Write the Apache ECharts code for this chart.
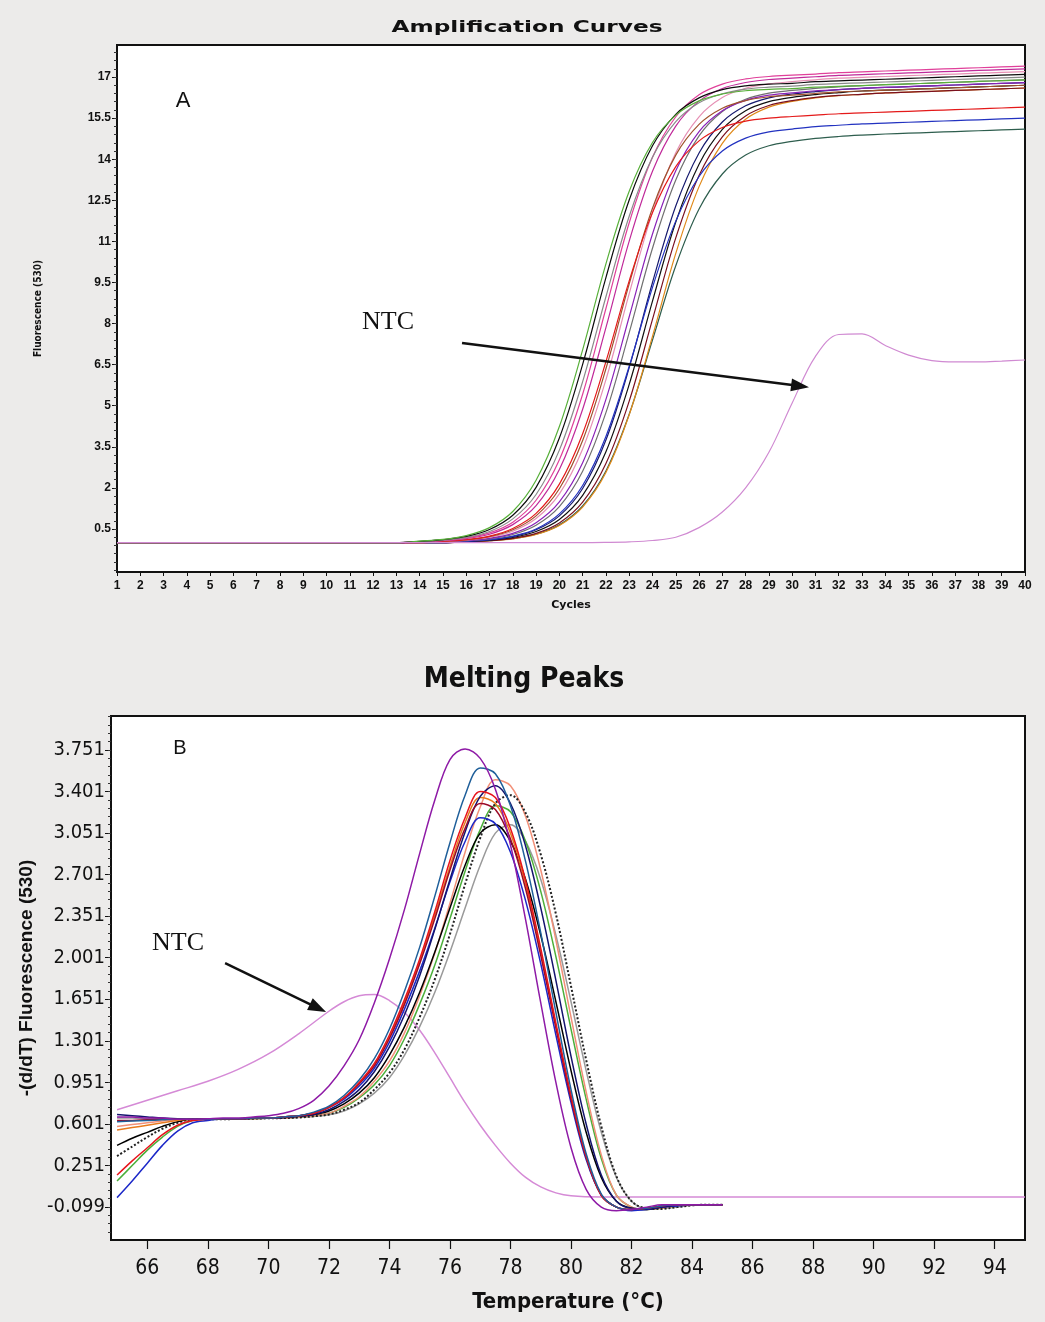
<!DOCTYPE html>
<html>
<head>
<meta charset="utf-8">
<title>Amplification Curves / Melting Peaks</title>
<script src="https://cdn.jsdelivr.net/npm/echarts@6/dist/echarts.min.js"></script>
<style>
  html, body { margin: 0; padding: 0; background: #ecebea; }
  #chart { width: 1045px; height: 1322px; }
</style>
</head>
<body>
<div id="chart"></div>
<script>
// ---- A: amplification curves (fluorescence per cycle) ----
const cycles = [1,2,3,4,5,6,7,8,9,10,11,12,13,14,15,16,17,18,19,20,21,22,23,24,25,26,27,28,29,30,31,32,33,34,35,36,37,38,39,40];
const ampTicks = [0.5, 2, 3.5, 5, 6.5, 8, 9.5, 11, 12.5, 14, 15.5, 17];

const ampGreen   = [0,0,0,0,0,0,0,0,0,0,0,0,0,0.06,0.12,0.26,0.55,1.14,2.28,4.24,7.04,10.18,12.83,14.61,15.61,16.13,16.38,16.50,16.55,16.58,16.63,16.66,16.69,16.72,16.75,16.78,16.81,16.84,16.87,16.90];
const ampBlack   = [0,0,0,0,0,0,0,0,0,0,0,0,0,0.05,0.11,0.23,0.48,1.00,2.02,3.82,6.51,9.68,12.51,14.49,15.64,16.24,16.54,16.68,16.74,16.77,16.83,16.86,16.89,16.92,16.95,16.98,17.01,17.04,17.07,17.10];
const ampGray    = [0,0,0,0,0,0,0,0,0,0,0,0,0,0.04,0.09,0.19,0.41,0.87,1.76,3.38,5.88,8.98,11.92,14.07,15.37,16.06,16.39,16.56,16.63,16.67,16.73,16.76,16.79,16.82,16.85,16.88,16.91,16.94,16.97,17.00];
const ampPink    = [0,0,0,0,0,0,0,0,0,0,0,0,0,0.04,0.08,0.17,0.36,0.75,1.55,3.03,5.42,8.55,11.68,14.07,15.55,16.35,16.74,16.93,17.02,17.07,17.11,17.16,17.19,17.22,17.25,17.28,17.31,17.34,17.37,17.40];
const ampMagenta = [0,0,0,0,0,0,0,0,0,0,0,0,0,0.03,0.07,0.15,0.31,0.66,1.35,2.67,4.87,7.85,11.01,13.56,15.21,16.12,16.58,16.80,16.91,16.96,17.01,17.06,17.09,17.12,17.15,17.18,17.21,17.24,17.27,17.30];
const ampRed     = [0,0,0,0,0,0,0,0,0,0,0,0,0,0,0.05,0.11,0.24,0.52,1.07,2.14,3.98,6.61,9.56,12.05,13.73,14.67,15.16,15.39,15.50,15.56,15.61,15.66,15.69,15.72,15.75,15.78,15.81,15.84,15.87,15.90];
const ampBrown   = [0,0,0,0,0,0,0,0,0,0,0,0,0,0,0.05,0.10,0.22,0.47,0.98,1.97,3.73,6.35,9.45,12.21,14.15,15.27,15.86,16.14,16.28,16.34,16.40,16.46,16.49,16.52,16.55,16.58,16.61,16.64,16.67,16.70];
const ampRose    = [0,0,0,0,0,0,0,0,0,0,0,0,0,0,0.04,0.09,0.20,0.42,0.88,1.78,3.42,5.95,9.09,12.06,14.24,15.55,16.25,16.59,16.75,16.83,16.90,16.96,16.99,17.02,17.05,17.08,17.11,17.14,17.17,17.20];
const ampPurple  = [0,0,0,0,0,0,0,0,0,0,0,0,0,0,0.04,0.08,0.16,0.34,0.73,1.49,2.92,5.23,8.25,11.27,13.58,15.01,15.77,16.15,16.34,16.42,16.50,16.54,16.59,16.62,16.65,16.68,16.71,16.74,16.77,16.80];
const ampSlate   = [0,0,0,0,0,0,0,0,0,0,0,0,0,0,0.03,0.07,0.14,0.30,0.64,1.32,2.61,4.75,7.67,10.75,13.24,14.85,15.74,16.19,16.41,16.51,16.59,16.64,16.69,16.72,16.75,16.78,16.81,16.84,16.87,16.90];
const ampBlue    = [0,0,0,0,0,0,0,0,0,0,0,0,0,0,0,0.05,0.11,0.24,0.50,1.05,2.09,3.88,6.44,9.32,11.74,13.37,14.30,14.77,15.00,15.10,15.19,15.24,15.29,15.32,15.35,15.38,15.41,15.44,15.47,15.50];
const ampNavy    = [0,0,0,0,0,0,0,0,0,0,0,0,0,0,0,0.05,0.10,0.22,0.47,0.98,1.98,3.75,6.39,9.50,12.29,14.23,15.36,15.95,16.24,16.38,16.47,16.54,16.59,16.62,16.65,16.68,16.71,16.74,16.77,16.80];
const ampBlack2  = [0,0,0,0,0,0,0,0,0,0,0,0,0,0,0,0.04,0.09,0.19,0.41,0.85,1.73,3.32,5.78,8.82,11.71,13.82,15.09,15.77,16.10,16.26,16.36,16.43,16.49,16.52,16.55,16.58,16.61,16.64,16.67,16.70];
const ampDarkRed = [0,0,0,0,0,0,0,0,0,0,0,0,0,0,0,0.04,0.07,0.16,0.34,0.72,1.48,2.89,5.17,8.15,11.13,13.41,14.82,15.58,15.96,16.14,16.26,16.33,16.37,16.42,16.45,16.48,16.51,16.54,16.57,16.60];
const ampOrange  = [0,0,0,0,0,0,0,0,0,0,0,0,0,0,0,0.03,0.07,0.14,0.30,0.63,1.30,2.56,4.67,7.53,10.56,13.00,14.58,15.46,15.90,16.11,16.24,16.32,16.37,16.42,16.45,16.48,16.51,16.54,16.57,16.60];
const ampTeal    = [0,0,0,0,0,0,0,0,0,0,0,0,0,0,0,0.03,0.07,0.15,0.31,0.65,1.34,2.62,4.69,7.40,10.11,12.18,13.46,14.15,14.49,14.65,14.76,14.83,14.88,14.92,14.95,14.98,15.01,15.04,15.07,15.10];
const ampNtc     = [0,0,0,0,0,0,0,0,0,0,0,0,0,0,0,0,0,0,0,0,0,0.01,0.03,0.08,0.20,0.55,1.12,2.00,3.30,5.10,6.80,7.60,7.62,7.20,6.85,6.65,6.60,6.60,6.63,6.67];

// ---- B: melting peaks (-dF/dT per temperature) ----
const meltTemp = [65,65.5,66,66.5,67,67.5,68,68.5,69,69.5,70,70.5,71,71.5,72,72.5,73,73.5,74,74.5,75,75.5,76,76.5,77,77.5,78,78.5,79,79.5,80,80.5,81,81.5,82,82.5,83,83.5,84,84.5,85];
const meltTicks = [66, 68, 70, 72, 74, 76, 78, 80, 82, 84, 86, 88, 90, 92, 94];
const meltYTicks = [-0.099, 0.251, 0.601, 0.951, 1.301, 1.651, 2.001, 2.351, 2.701, 3.051, 3.401, 3.751];

const meltPurple  = [0.66,0.66,0.65,0.65,0.64,0.64,0.645,0.65,0.65,0.66,0.67,0.69,0.73,0.80,0.92,1.09,1.31,1.62,1.99,2.41,2.88,3.33,3.67,3.76,3.68,3.42,2.95,2.32,1.62,0.95,0.40,0.05,-0.10,-0.13,-0.12,-0.10,-0.08,-0.08,-0.08,-0.08,-0.08];
const meltTeal    = [0.62,0.625,0.63,0.635,0.64,0.64,0.64,0.645,0.645,0.65,0.65,0.66,0.67,0.70,0.75,0.84,0.97,1.15,1.40,1.72,2.09,2.52,2.97,3.37,3.60,3.55,3.28,2.81,2.21,1.54,0.89,0.35,0.01,-0.10,-0.12,-0.11,-0.09,-0.08,-0.08,-0.08,-0.08];
const meltSalmon  = [0.58,0.595,0.61,0.625,0.635,0.64,0.64,0.64,0.645,0.645,0.65,0.65,0.66,0.67,0.69,0.75,0.83,0.96,1.13,1.37,1.68,2.04,2.46,2.89,3.27,3.50,3.45,3.19,2.74,2.15,1.50,0.87,0.34,0.00,-0.10,-0.12,-0.11,-0.09,-0.08,-0.08,-0.08];
const meltDotted  = [0.33,0.41,0.49,0.56,0.61,0.64,0.64,0.64,0.643,0.645,0.648,0.65,0.655,0.665,0.68,0.72,0.78,0.89,1.03,1.23,1.50,1.82,2.20,2.62,3.01,3.30,3.37,3.22,2.87,2.37,1.76,1.14,0.58,0.16,-0.05,-0.11,-0.115,-0.10,-0.085,-0.08,-0.08];
const meltGray    = [0.65,0.65,0.645,0.645,0.64,0.64,0.64,0.64,0.643,0.645,0.648,0.65,0.655,0.664,0.677,0.71,0.77,0.86,0.99,1.18,1.42,1.71,2.05,2.42,2.78,3.05,3.12,2.98,2.66,2.19,1.63,1.05,0.53,0.15,-0.05,-0.11,-0.11,-0.10,-0.085,-0.08,-0.08];
const meltGreen   = [0.12,0.25,0.38,0.49,0.58,0.63,0.64,0.64,0.645,0.645,0.65,0.65,0.66,0.67,0.69,0.74,0.82,0.93,1.09,1.32,1.61,1.94,2.33,2.73,3.08,3.28,3.23,2.98,2.56,2.01,1.40,0.81,0.31,0.00,-0.10,-0.12,-0.11,-0.09,-0.08,-0.08,-0.08];
const meltRed     = [0.17,0.29,0.40,0.51,0.59,0.63,0.64,0.645,0.645,0.65,0.65,0.66,0.67,0.69,0.74,0.82,0.95,1.11,1.35,1.65,1.99,2.39,2.82,3.18,3.40,3.35,3.09,2.65,2.08,1.45,0.84,0.33,0.00,-0.10,-0.12,-0.11,-0.09,-0.08,-0.08,-0.08,-0.08];
const meltDarkRed = [0.63,0.63,0.635,0.64,0.64,0.64,0.64,0.645,0.645,0.65,0.65,0.66,0.67,0.69,0.74,0.82,0.94,1.09,1.32,1.61,1.95,2.33,2.74,3.09,3.30,3.25,3.00,2.58,2.02,1.41,0.81,0.32,0.00,-0.10,-0.12,-0.11,-0.09,-0.08,-0.08,-0.08,-0.08];
const meltNavy    = [0.68,0.67,0.66,0.65,0.645,0.64,0.64,0.643,0.645,0.648,0.65,0.655,0.665,0.68,0.72,0.79,0.89,1.04,1.25,1.52,1.85,2.24,2.66,3.06,3.36,3.45,3.30,2.94,2.42,1.81,1.17,0.60,0.17,-0.05,-0.11,-0.115,-0.10,-0.085,-0.08,-0.08,-0.08];
const meltBlue    = [-0.02,0.12,0.27,0.42,0.54,0.61,0.63,0.645,0.645,0.65,0.65,0.66,0.67,0.69,0.74,0.81,0.92,1.07,1.29,1.57,1.89,2.25,2.64,2.98,3.18,3.13,2.89,2.48,1.95,1.35,0.78,0.30,0.00,-0.10,-0.13,-0.12,-0.10,-0.09,-0.08,-0.08,-0.08];
const meltOrange  = [0.55,0.57,0.59,0.61,0.63,0.64,0.64,0.645,0.645,0.65,0.65,0.66,0.67,0.69,0.74,0.82,0.94,1.10,1.33,1.63,1.97,2.36,2.77,3.14,3.35,3.30,3.05,2.62,2.05,1.43,0.83,0.32,0.00,-0.10,-0.12,-0.11,-0.09,-0.08,-0.08,-0.08,-0.08];
const meltBlack   = [0.42,0.48,0.53,0.58,0.62,0.64,0.64,0.643,0.645,0.648,0.65,0.655,0.665,0.68,0.71,0.77,0.86,0.99,1.18,1.42,1.71,2.05,2.42,2.78,3.05,3.12,2.98,2.66,2.19,1.63,1.05,0.53,0.15,-0.05,-0.11,-0.12,-0.10,-0.085,-0.08,-0.08,-0.08];

const ntcTemp = [65,66,67,68,69,70,71,72,72.5,73,73.5,74,74.5,75,75.5,76,76.5,77,77.5,78,78.5,79,79.5,80,81,82,84,86,88,90,92,94,95];
const ntcMelt = [0.72,0.80,0.88,0.96,1.06,1.19,1.36,1.55,1.63,1.68,1.69,1.64,1.54,1.39,1.20,0.99,0.78,0.59,0.42,0.27,0.15,0.07,0.02,-0.005,-0.015,-0.015,-0.015,-0.015,-0.015,-0.015,-0.015,-0.015,-0.015];

const ampCurves = [
  [ampTeal, '#2e5e4e'], [ampOrange, '#e08a1a'], [ampDarkRed, '#7a1020'], [ampBlack2, '#111111'],
  [ampNavy, '#161a6e'], [ampBlue, '#2232c0'], [ampSlate, '#707070'], [ampPurple, '#8a22b8'],
  [ampRose, '#e690b4'], [ampBrown, '#a0522d'], [ampRed, '#e41a1a'], [ampMagenta, '#c02a9a'],
  [ampPink, '#e0409a'], [ampGray, '#8a8a8a'], [ampBlack, '#0c0c0c'], [ampGreen, '#58b03a']
];
const meltCurves = [
  [meltGray, '#9a9a9a', 'solid'], [meltGreen, '#4caf3a', 'solid'], [meltSalmon, '#f29078', 'solid'],
  [meltDotted, '#222222', 'dotted'], [meltBlack, '#000000', 'solid'], [meltOrange, '#e87a1e', 'solid'],
  [meltBlue, '#1c28c8', 'solid'], [meltNavy, '#14146e', 'solid'], [meltDarkRed, '#9a0a28', 'solid'],
  [meltRed, '#e8141c', 'solid'], [meltTeal, '#1f5f9a', 'solid'], [meltPurple, '#8e1aa6', 'solid']
];

function pairs(xs, ys) {
  return ys.map((v, i) => [xs[i], v]);
}
function minorTicks(start, end, step) {
  const out = [];
  for (let v = start; v <= end + 1e-9; v += step) out.push(Math.round(v * 1000) / 1000);
  return out;
}

const boldSans = '"Liberation Sans", Arial, sans-serif';
const narrow = '"Liberation Sans Narrow", "DejaVu Sans Condensed", "Liberation Sans", sans-serif';

const series = [];
ampCurves.forEach(([vals, color]) => {
  series.push({
    type: 'line', xAxisIndex: 0, yAxisIndex: 0, data: pairs(cycles, vals),
    showSymbol: false, smooth: 0.35, silent: true,
    lineStyle: { color: color, width: 1.2 }
  });
});
series.push({
  type: 'line', xAxisIndex: 0, yAxisIndex: 0, data: pairs(cycles, ampNtc),
  showSymbol: false, smooth: 0.35, silent: true,
  lineStyle: { color: '#d08ad2', width: 1.2 },
  markLine: {
    silent: true, symbol: ['none', 'triangle'], symbolSize: [13, 18],
    label: { show: false }, lineStyle: { color: '#111', width: 2.5, type: 'solid' },
    data: [[{ coord: [15.82, 7.29] }, { coord: [30.34, 5.72] }]]
  }
});
series.push({
  type: 'line', xAxisIndex: 1, yAxisIndex: 2, data: pairs(ntcTemp, ntcMelt),
  showSymbol: false, smooth: 0.35, silent: true,
  lineStyle: { color: '#d58ad6', width: 1.5 },
  markLine: {
    silent: true, symbol: ['none', 'triangle'], symbolSize: [13, 18],
    label: { show: false }, lineStyle: { color: '#111', width: 2.5, type: 'solid' },
    data: [[{ coord: [68.57, 1.956] }, { coord: [71.64, 1.577] }]]
  }
});
meltCurves.forEach(([vals, color, type]) => {
  series.push({
    type: 'line', xAxisIndex: 1, yAxisIndex: 2, data: pairs(meltTemp, vals),
    showSymbol: false, smooth: 0.35, silent: true,
    lineStyle: { color: color, width: type === 'dotted' ? 2 : 1.5, type: type }
  });
});

const chart = echarts.init(document.getElementById('chart'));
chart.setOption({
  animation: false,
  backgroundColor: '#ecebea',
  grid: [
    { left: 117, top: 45, width: 908, height: 527, show: true, backgroundColor: '#ffffff',
      borderColor: '#111', borderWidth: 2, outerBoundsMode: 'none' },
    { left: 111, top: 716, width: 914, height: 524, show: true, backgroundColor: '#ffffff',
      borderColor: '#111', borderWidth: 2, outerBoundsMode: 'none' }
  ],
  xAxis: [
    {
      type: 'value', gridIndex: 0, min: 1, max: 40, interval: 1,
      axisLine: { onZero: false, lineStyle: { color: '#111', width: 2 } },
      axisTick: { length: 4, lineStyle: { color: '#111' } },
      splitLine: { show: false },
      axisLabel: { color: '#111', fontFamily: boldSans, fontWeight: 'bold', fontSize: 12, margin: 8 },
      name: 'Cycles', nameLocation: 'middle', nameGap: 28,
      nameTextStyle: { color: '#111', fontFamily: '"DejaVu Sans", sans-serif', fontWeight: 'bold', fontSize: 11 }
    },
    {
      type: 'value', gridIndex: 1, min: 64.8, max: 95,
      axisLine: { onZero: false, lineStyle: { color: '#111', width: 2 } },
      axisTick: { length: 9, customValues: meltTicks, lineStyle: { color: '#111', width: 1.2 } },
      splitLine: { show: false },
      axisLabel: { customValues: meltTicks, color: '#111', fontFamily: narrow, fontSize: 21, margin: 18 },
      name: 'Temperature (°C)', nameLocation: 'middle', nameGap: 51,
      nameTextStyle: { color: '#111', fontFamily: narrow, fontWeight: 'bold', fontSize: 22 }
    }
  ],
  yAxis: [
    {
      type: 'value', gridIndex: 0, position: 'left', min: -1.07, max: 18.17,
      axisLine: { onZero: false, lineStyle: { color: '#111', width: 2 } },
      axisTick: { length: 5, customValues: ampTicks, lineStyle: { color: '#111' } },
      splitLine: { show: false },
      axisLabel: { customValues: ampTicks, color: '#111', fontFamily: boldSans, fontWeight: 'bold', fontSize: 12, margin: 6 },
      name: 'Fluorescence (530)', nameLocation: 'middle', nameRotate: 90, nameGap: 74,
      nameTextStyle: { color: '#111', fontFamily: narrow, fontWeight: 'bold', fontSize: 10 }
    },
    {
      type: 'value', gridIndex: 0, position: 'left', min: -1.07, max: 18.17,
      axisLine: { show: false, onZero: false }, splitLine: { show: false }, axisLabel: { show: false },
      axisTick: { length: 3, customValues: minorTicks(-1.0, 18.1, 0.3), lineStyle: { color: '#333' } }
    },
    {
      type: 'value', gridIndex: 1, position: 'left', min: -0.377, max: 4.037,
      axisLine: { onZero: false, lineStyle: { color: '#111', width: 2 } },
      axisTick: { length: 6, customValues: meltYTicks, lineStyle: { color: '#111' } },
      splitLine: { show: false },
      axisLabel: { customValues: meltYTicks, formatter: v => v.toFixed(3), color: '#111', fontFamily: narrow, fontSize: 20, margin: 6 },
      name: '-(d/dT) Fluorescence (530)', nameLocation: 'middle', nameRotate: 90, nameGap: 54,
      nameTextStyle: { color: '#111', fontFamily: boldSans, fontWeight: 'bold', fontSize: 19 }
    },
    {
      type: 'value', gridIndex: 1, position: 'left', min: -0.377, max: 4.037,
      axisLine: { show: false, onZero: false }, splitLine: { show: false }, axisLabel: { show: false },
      axisTick: { length: 3, customValues: minorTicks(-0.309, 4.031, 0.07), lineStyle: { color: '#333' } }
    }
  ],
  graphic: [
    { type: 'text', x: 527, y: 28, scaleX: 1.55, z: 10,
      style: { text: 'Amplification Curves', font: 'bold 15px "DejaVu Sans", sans-serif', fill: '#111', textAlign: 'center', textVerticalAlign: 'middle' } },
    { type: 'text', x: 524, y: 680, z: 10,
      style: { text: 'Melting Peaks', font: 'bold 28px ' + narrow, fill: '#111', textAlign: 'center', textVerticalAlign: 'middle' } },
    { type: 'text', x: 183, y: 101, z: 10,
      style: { text: 'A', font: '22px "Liberation Sans", sans-serif', fill: '#111', textAlign: 'center', textVerticalAlign: 'middle' } },
    { type: 'text', x: 388, y: 322, z: 10,
      style: { text: 'NTC', font: '26px "Liberation Serif", serif', fill: '#111', textAlign: 'center', textVerticalAlign: 'middle' } },
    { type: 'text', x: 180, y: 748, z: 10,
      style: { text: 'B', font: '20px "Liberation Sans", sans-serif', fill: '#111', textAlign: 'center', textVerticalAlign: 'middle' } },
    { type: 'text', x: 178, y: 943, z: 10,
      style: { text: 'NTC', font: '26px "Liberation Serif", serif', fill: '#111', textAlign: 'center', textVerticalAlign: 'middle' } }
  ],
  series: series
});
</script>
</body>
</html>
